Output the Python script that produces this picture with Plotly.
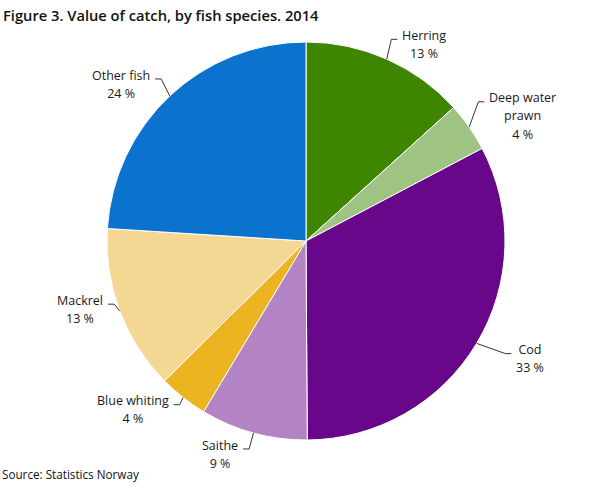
import math
import plotly.graph_objects as go

# ---- data ----
species = ["Herring", "Deep water prawn", "Cod", "Saithe", "Blue whiting", "Mackrel", "Other fish"]
display_labels = ["Herring", "Deep water<br>prawn", "Cod", "Saithe", "Blue whiting", "Mackrel", "Other fish"]
share_pct = [13.3, 4.0, 32.6, 8.7, 4.0, 13.4, 24.0]
colors = ["#3e8500", "#9fc383", "#69078a", "#b383c3", "#ebb420", "#f4d793", "#0b73cd"]

title_text = "Figure 3. Value of catch, by fish species. 2014"
source_text = "Source: Statistics Norway"

# ---- layout settings (pixels) ----
W, H = 609, 488
CX, CY, R = 306, 241, 199
leader_len = [20, 22.6, 30, 16.6, 7.8, 3, 18.4]      # radial length of connector
leader_angle_shift = [-1, -4, -1.5, 0, -0.5, 2.3, 1.4]  # degrees
TICK = 6
GAP = 3
FS = 12.5          # glyph size of slice labels
FS_LINE = 14.1     # controls line spacing (1.3em)
LINE = 1.3 * FS_LINE


def px(x):
    return x / W


def py(y):
    return 1 - y / H


fig = go.Figure(go.Pie(
    labels=species,
    values=share_pct,
    sort=False,
    direction="clockwise",
    rotation=0,
    marker=dict(colors=colors, line=dict(color="white", width=1)),
    textinfo="none",
    hoverinfo="label+percent",
    showlegend=False,
    domain=dict(x=[px(CX - R), px(CX + R)], y=[py(CY + R), py(CY - R)]),
))

total = sum(share_pct)
shapes = []
annotations = []
cum = 0.0
for i, v in enumerate(share_pct):
    mid = (cum + v / 2) / total * 360.0
    cum += v
    a = math.radians(mid)
    ex, ey = CX + R * math.sin(a), CY - R * math.cos(a)
    b = math.radians(mid + leader_angle_shift[i])
    rr = R + leader_len[i]
    bx, by = CX + rr * math.sin(b), CY - rr * math.cos(b)
    right = mid < 180
    tx = bx + TICK if right else bx - TICK
    shapes.append(dict(
        type="path", xref="paper", yref="paper",
        path=f"M {px(ex)} {py(ey)} L {px(bx)} {py(by)} L {px(tx)} {py(by)}",
        line=dict(color="#333333", width=1),
    ))
    lines = display_labels[i].split("<br>") + [f"{round(v)} %"]
    text = "<br>".join(f"<span style='font-size:{FS}px'>{t}</span>" for t in lines)
    first_center = by - 4
    block_center = first_center + (len(lines) - 1) * LINE / 2
    annotations.append(dict(
        xref="paper", yref="paper",
        x=px(tx + GAP if right else tx - GAP), y=py(block_center),
        xanchor="left" if right else "right", yanchor="middle",
        align="center", showarrow=False,
        text=text,
        font=dict(family="Open Sans", size=FS_LINE, color="#1a1a1a"),
    ))

annotations.append(dict(
    xref="paper", yref="paper", x=px(1), y=py(15), xanchor="left", yanchor="middle",
    showarrow=False, text=title_text,
    font=dict(family="Open Sans", size=14.7, color="#111111", weight=600),
))
annotations.append(dict(
    xref="paper", yref="paper", x=px(0), y=py(474), xanchor="left", yanchor="middle",
    showarrow=False, text=source_text,
    font=dict(family="Open Sans", size=11.7, color="#111111"),
))

fig.update_layout(
    width=W, height=H,
    margin=dict(l=0, r=0, t=0, b=0),
    paper_bgcolor="white", plot_bgcolor="white",
    shapes=shapes, annotations=annotations,
)

fig.write_html(
    "out.html",
    config={"displayModeBar": False},
    post_script="document.body.style.margin='0';document.body.style.padding='0';",
)
